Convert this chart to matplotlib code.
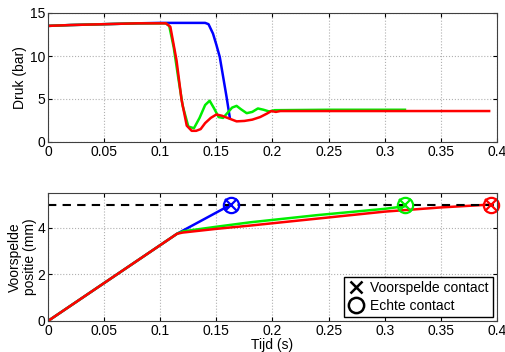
import numpy as np
import matplotlib
matplotlib.use("Agg")
import matplotlib.pyplot as plt
from matplotlib.lines import Line2D

plt.rcParams['font.family'] = ['Liberation Sans', 'DejaVu Sans']
plt.rcParams['font.size'] = 10

# Pressure traces (time in s, pressure in bar)
t_blue = [0.0, 0.02, 0.05, 0.08, 0.10, 0.12, 0.14, 0.143, 0.147, 0.150, 0.153, 0.156, 0.159, 0.162]
p_blue = [13.5, 13.6, 13.7, 13.8, 13.85, 13.85, 13.85, 13.7, 12.6, 11.3, 9.9, 7.6, 5.3, 2.8]

t_green = [0.0, 0.02, 0.05, 0.08, 0.105, 0.108, 0.112, 0.116, 0.120, 0.125, 0.130, 0.135,
           0.140, 0.144, 0.148, 0.152, 0.156, 0.160, 0.164, 0.168, 0.172, 0.177, 0.182,
           0.187, 0.192, 0.197, 0.202, 0.25, 0.30, 0.318]
p_green = [13.5, 13.6, 13.7, 13.8, 13.8, 13.5, 11.0, 7.5, 4.2, 1.8, 1.6, 2.8,
           4.3, 4.8, 3.9, 2.9, 2.8, 3.4, 4.0, 4.2, 3.8, 3.35, 3.5,
           3.9, 3.75, 3.55, 3.7, 3.75, 3.75, 3.75]

t_red = [0.0, 0.02, 0.05, 0.08, 0.105, 0.109, 0.1145, 0.119, 0.1236, 0.128, 0.132, 0.136,
         0.140, 0.145, 0.150, 0.155, 0.160, 0.168, 0.175, 0.182, 0.189, 0.195, 0.199,
         0.203, 0.207, 0.25, 0.30, 0.35, 0.393]
p_red = [13.5, 13.6, 13.7, 13.8, 13.8, 13.4, 9.5, 4.9, 1.9, 1.3, 1.3, 1.5,
         2.2, 2.8, 3.2, 3.05, 2.8, 2.4, 2.45, 2.6, 2.9, 3.3, 3.6,
         3.5, 3.6, 3.6, 3.6, 3.6, 3.6]

# Predicted position traces (time in s, position in mm)
t_pos_blue = [0.0, 0.115, 0.140, 0.163]
x_pos_blue = [0.0, 3.75, 4.4, 5.0]
t_pos_green = [0.0, 0.115, 0.12, 0.15, 0.18, 0.24, 0.30, 0.318]
x_pos_green = [0.0, 3.75, 3.85, 4.05, 4.24, 4.55, 4.82, 4.93]
t_pos_red = [0.0, 0.115, 0.12, 0.15, 0.18, 0.24, 0.30, 0.35, 0.393]
x_pos_red = [0.0, 3.75, 3.8, 3.96, 4.1, 4.4, 4.7, 4.88, 5.0]

contact_level = 5.0
contact_times = [0.163, 0.318, 0.395]
colors = ['#0000ff', '#00ee00', '#ff0000']

fig = plt.figure(figsize=(5.06, 3.52), dpi=100)
ax1 = fig.add_axes([48 / 506, 1 - 142 / 352, 449 / 506, 129 / 352])
ax2 = fig.add_axes([48 / 506, 1 - 321 / 352, 449 / 506, 128 / 352])

ax1.plot(t_blue, p_blue, color=colors[0], lw=1.8)
ax1.plot(t_green, p_green, color=colors[1], lw=1.8)
ax1.plot(t_red, p_red, color=colors[2], lw=1.8)
ax1.set_xlim(0, 0.4)
ax1.set_ylim(0, 15)
ax1.set_yticks([0, 5, 10, 15])
ax1.set_ylabel('Druk (bar)', labelpad=2)

ax2.plot(t_pos_blue, x_pos_blue, color=colors[0], lw=1.8)
ax2.plot(t_pos_green, x_pos_green, color=colors[1], lw=1.8)
ax2.plot(t_pos_red, x_pos_red, color=colors[2], lw=1.8)
ax2.axhline(contact_level, color='black', ls='--', lw=1.5, dashes=(4, 3))
for tc, c in zip(contact_times, colors):
    ax2.plot(tc, contact_level, 'x', color=c, ms=8, mew=1.6, clip_on=False)
    ax2.plot(tc, contact_level, 'o', mfc='none', mec=c, ms=11, mew=1.6, clip_on=False)
ax2.set_xlim(0, 0.4)
ax2.set_ylim(0, 5.5)
ax2.set_yticks([0, 2, 4])
ax2.set_ylabel('Voorspelde\npositie (mm)', labelpad=0, linespacing=1.1)
ax2.set_xlabel('Tijd (s)', labelpad=0)

handles = [Line2D([], [], marker='x', color='black', ls='none', ms=9, mew=1.8),
           Line2D([], [], marker='o', mfc='none', mec='black', ls='none', ms=11, mew=1.8)]
ax2.legend(handles, ['Voorspelde contact', 'Echte contact'], loc='lower right',
           fancybox=False, edgecolor='black', framealpha=1, handletextpad=0.4,
           borderaxespad=0.3, labelspacing=0.25, handlelength=1.2, borderpad=0.3)

for ax in (ax1, ax2):
    ax.set_xticks(np.arange(0, 0.41, 0.05))
    ax.set_xticklabels(['0', '0.05', '0.1', '0.15', '0.2', '0.25', '0.3', '0.35', '0.4'])
    ax.grid(True, ls=':', color='#b0b0b0', lw=0.8)
    ax.tick_params(direction='in', length=3, top=True, right=True, pad=2)
    for s in ax.spines.values():
        s.set_color('#404040')

fig.savefig('out.png', dpi=100)
